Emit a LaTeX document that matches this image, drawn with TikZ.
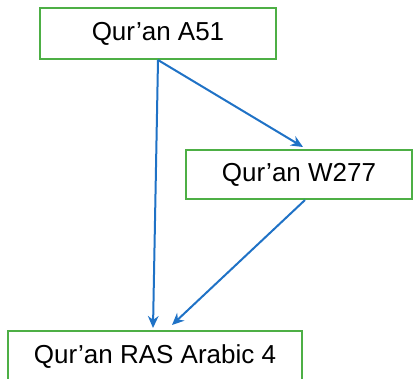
\documentclass[tikz,border=0pt]{standalone}
\usepackage{fontspec}
\setmainfont{Liberation Sans}
\usetikzlibrary{arrows.meta}
\definecolor{boxborder}{HTML}{4DAF45}
\definecolor{linkblue}{HTML}{1F72C6}

\begin{document}
\begin{tikzpicture}[
    x=0.75pt, y=-0.75pt,
    ms/.style={draw=boxborder, line width=1.5pt, inner sep=0pt,
               font=\fontsize{19.5}{23}\selectfont, fill=white},
    link/.style={draw=linkblue, line width=1.5pt,
                 -{Stealth[length=9pt, width=8pt]}},
]
\useasboundingbox (0,0) rectangle (413,378);
\clip (0,0) rectangle (413,378);

\node[ms, minimum width=177pt, minimum height=38.25pt] (a51) at (158,33.5) {Qur’an A51};
\node[ms, minimum width=169.5pt, minimum height=36.75pt] (w277) at (299,174.5) {Qur’an W277};
\node[ms, minimum width=220.5pt, minimum height=38.25pt] (ras) at (155,356.5) {Qur’an RAS Arabic 4};

\draw[link] (a51.south) -- ([xshift=3pt, yshift=1.5pt]w277.north);
\draw[link] (a51.south) -- ([xshift=-1.5pt, yshift=1.5pt]ras.north);
\draw[link] ([xshift=4.5pt]w277.south) -- ([xshift=12.75pt, yshift=3.75pt]ras.north);

\end{tikzpicture}
\end{document}
